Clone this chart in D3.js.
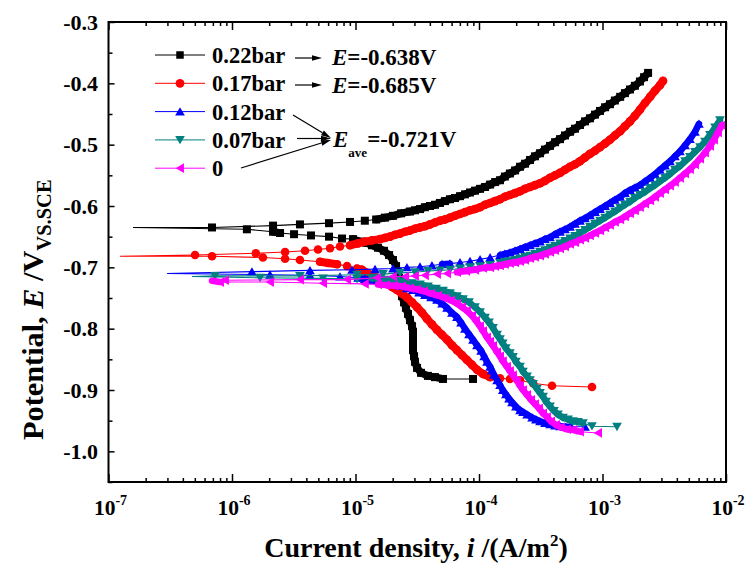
<!DOCTYPE html>
<html><head><meta charset="utf-8">
<script src="https://cdn.jsdelivr.net/npm/d3@7"></script>
<style>
body{margin:0;background:#fff}
svg{display:block}
text{font-family:"Liberation Serif","Times New Roman",serif;font-weight:bold;fill:#000}
</style>
</head><body>
<svg id="chart" width="745" height="569"></svg>
<script>
// ---------- data ----------
const categories = ["0.22bar","0.17bar","0.12bar","0.07bar","0"];
const colors = ["#000000","#ff0000","#0000ff","#008080","#ff00ff"];
const xTicks = [1e-7,1e-6,1e-5,1e-4,1e-3,1e-2];
const xTickExp = ["-7","-6","-5","-4","-3","-2"];
const yTicks = [-0.3,-0.4,-0.5,-0.6,-0.7,-0.8,-0.9,-1.0];
const yTickLabels = ["-0.3","-0.4","-0.5","-0.6","-0.7","-0.8","-0.9","-1.0"];
const annotValues = ["-0.638V","-0.685V","-0.721V"];

// [current density (A/m2), potential (V)]
const s022 = [[8.94e-5,-0.882],[5.11e-5,-0.882],[4.40e-5,-0.879],[3.86e-5,-0.877],[3.39e-5,-0.872],[3.15e-5,-0.864],[3.03e-5,-0.854],[2.98e-5,-0.845],[2.92e-5,-0.835],[2.92e-5,-0.825],[2.92e-5,-0.815],[2.92e-5,-0.805],[2.87e-5,-0.796],[2.76e-5,-0.786],[2.66e-5,-0.776],[2.56e-5,-0.766],[2.47e-5,-0.757],[2.38e-5,-0.747],[2.34e-5,-0.737],[2.29e-5,-0.727],[2.25e-5,-0.717],[2.21e-5,-0.708],[2.13e-5,-0.698],[2.01e-5,-0.688],[1.87e-5,-0.680],[1.70e-5,-0.673],[1.52e-5,-0.668],[1.36e-5,-0.664],[1.22e-5,-0.660],[1.09e-5,-0.658],[9.55e-6,-0.654],[7.78e-6,-0.653],[6.10e-6,-0.650],[4.36e-6,-0.648],[3.18e-6,-0.646],[2.45e-6,-0.644],[2.15e-6,-0.642],[1.32e-6,-0.638],[1.58e-7,-0.635],[6.89e-7,-0.635],[2.15e-6,-0.632],[3.55e-6,-0.630],[6.10e-6,-0.628],[9.03e-6,-0.626],[1.19e-5,-0.624],[1.47e-5,-0.622],[1.73e-5,-0.619],[2.01e-5,-0.616],[2.34e-5,-0.612],[2.76e-5,-0.609],[3.03e-5,-0.607],[3.33e-5,-0.605],[3.65e-5,-0.602],[4.01e-5,-0.600],[4.40e-5,-0.598],[4.83e-5,-0.595],[5.30e-5,-0.592],[5.82e-5,-0.589],[6.39e-5,-0.587],[7.02e-5,-0.584],[7.70e-5,-0.581],[8.46e-5,-0.578],[9.28e-5,-0.575],[1.02e-4,-0.572],[1.12e-4,-0.569],[1.23e-4,-0.565],[1.35e-4,-0.561],[1.48e-4,-0.558],[1.62e-4,-0.552],[1.78e-4,-0.547],[1.96e-4,-0.542],[2.15e-4,-0.536],[2.36e-4,-0.531],[2.59e-4,-0.525],[2.84e-4,-0.519],[3.12e-4,-0.514],[3.42e-4,-0.508],[3.76e-4,-0.502],[4.13e-4,-0.496],[4.53e-4,-0.491],[4.97e-4,-0.485],[5.46e-4,-0.479],[5.99e-4,-0.474],[6.57e-4,-0.468],[7.22e-4,-0.462],[7.92e-4,-0.457],[8.70e-4,-0.451],[9.55e-4,-0.445],[1.05e-3,-0.439],[1.15e-3,-0.434],[1.26e-3,-0.428],[1.39e-3,-0.422],[1.52e-3,-0.416],[1.67e-3,-0.410],[1.83e-3,-0.404],[2.01e-3,-0.397],[2.17e-3,-0.390],[2.34e-3,-0.383]];

const s017 = [[8.22e-4,-0.895],[3.90e-4,-0.893],[2.74e-4,-0.889],[2.15e-4,-0.884],[1.78e-4,-0.882],[1.48e-4,-0.881],[1.23e-4,-0.879],[1.078e-4,-0.874],[9.63e-5,-0.867],[8.78e-5,-0.859],[7.99e-5,-0.851],[7.28e-5,-0.843],[6.63e-5,-0.835],[6.04e-5,-0.827],[5.51e-5,-0.818],[5.02e-5,-0.810],[4.57e-5,-0.802],[4.16e-5,-0.793],[3.79e-5,-0.784],[3.46e-5,-0.774],[3.15e-5,-0.765],[2.87e-5,-0.757],[2.61e-5,-0.749],[2.38e-5,-0.743],[2.17e-5,-0.737],[1.975e-5,-0.732],[1.80e-5,-0.727],[1.64e-5,-0.722],[1.49e-5,-0.717],[1.36e-5,-0.713],[1.24e-5,-0.709],[1.13e-5,-0.704],[1.03e-5,-0.702],[8.54e-6,-0.698],[7.09e-6,-0.695],[5.99e-6,-0.693],[5.16e-6,-0.691],[3.55e-6,-0.688],[2.69e-6,-0.686],[1.78e-6,-0.684],[6.89e-7,-0.682],[1.24e-7,-0.682],[5.02e-7,-0.680],[1.56e-6,-0.677],[2.69e-6,-0.675],[3.90e-6,-0.673],[4.97e-6,-0.671],[6.22e-6,-0.669],[7.49e-6,-0.666],[9.03e-6,-0.664],[1.048e-5,-0.661],[1.19e-5,-0.658],[1.36e-5,-0.656],[1.58e-5,-0.654],[1.733e-5,-0.652],[1.90e-5,-0.650],[2.09e-5,-0.647],[2.29e-5,-0.645],[2.52e-5,-0.642],[2.76e-5,-0.640],[3.03e-5,-0.637],[3.33e-5,-0.635],[3.65e-5,-0.633],[4.01e-5,-0.630],[4.40e-5,-0.627],[4.83e-5,-0.624],[5.30e-5,-0.622],[5.82e-5,-0.619],[6.39e-5,-0.616],[7.02e-5,-0.613],[7.70e-5,-0.610],[8.46e-5,-0.607],[9.28e-5,-0.605],[1.02e-4,-0.602],[1.12e-4,-0.598],[1.23e-4,-0.595],[1.35e-4,-0.592],[1.48e-4,-0.589],[1.62e-4,-0.585],[1.78e-4,-0.582],[1.96e-4,-0.579],[2.15e-4,-0.576],[2.36e-4,-0.572],[2.59e-4,-0.569],[2.84e-4,-0.566],[3.12e-4,-0.563],[3.42e-4,-0.559],[3.76e-4,-0.554],[4.13e-4,-0.550],[4.53e-4,-0.546],[4.97e-4,-0.541],[5.46e-4,-0.536],[5.99e-4,-0.532],[6.57e-4,-0.527],[7.22e-4,-0.521],[7.92e-4,-0.515],[8.70e-4,-0.510],[9.55e-4,-0.504],[1.05e-3,-0.498],[1.15e-3,-0.492],[1.26e-3,-0.485],[1.39e-3,-0.478],[1.52e-3,-0.470],[1.67e-3,-0.462],[1.83e-3,-0.453],[2.01e-3,-0.443],[2.21e-3,-0.432],[2.43e-3,-0.422],[2.66e-3,-0.412],[2.92e-3,-0.403],[3.09e-3,-0.396]];

const s012 = [[7.22e-4,-0.960],[5.46e-4,-0.960],[4.97e-4,-0.960],[4.53e-4,-0.959],[4.13e-4,-0.958],[3.76e-4,-0.956],[3.42e-4,-0.954],[3.12e-4,-0.951],[2.89e-4,-0.948],[2.69e-4,-0.945],[2.45e-4,-0.940],[2.27e-4,-0.936],[2.15e-4,-0.933],[1.99e-4,-0.927],[1.85e-4,-0.920],[1.75e-4,-0.914],[1.65e-4,-0.907],[1.56e-4,-0.900],[1.48e-4,-0.892],[1.40e-4,-0.884],[1.32e-4,-0.875],[1.27e-4,-0.868],[1.23e-4,-0.862],[1.16e-4,-0.854],[1.10e-4,-0.845],[1.04e-4,-0.836],[9.63e-5,-0.827],[8.94e-5,-0.818],[8.30e-5,-0.809],[7.70e-5,-0.800],[7.15e-5,-0.790],[6.63e-5,-0.781],[6.04e-5,-0.774],[5.51e-5,-0.766],[5.02e-5,-0.759],[4.57e-5,-0.753],[4.09e-5,-0.749],[3.65e-5,-0.745],[3.27e-5,-0.741],[2.92e-5,-0.737],[2.61e-5,-0.734],[2.29e-5,-0.730],[2.01e-5,-0.727],[1.77e-5,-0.725],[1.55e-5,-0.722],[1.36e-5,-0.721],[1.19e-5,-0.719],[1.048e-5,-0.717],[7.49e-6,-0.715],[4.28e-6,-0.713],[2.03e-6,-0.712],[2.98e-7,-0.710],[1.45e-6,-0.707],[4.28e-6,-0.705],[9.37e-6,-0.704],[1.44e-5,-0.703],[2.01e-5,-0.702],[2.61e-5,-0.700],[3.33e-5,-0.699],[4.16e-5,-0.697],[5.02e-5,-0.695],[5.82e-5,-0.694],[7.02e-5,-0.692],[8.46e-5,-0.690],[1.02e-4,-0.687],[1.23e-4,-0.684],[1.48e-4,-0.680],[1.62e-4,-0.678],[1.78e-4,-0.676],[1.96e-4,-0.673],[2.15e-4,-0.670],[2.36e-4,-0.667],[2.59e-4,-0.664],[2.84e-4,-0.661],[3.12e-4,-0.658],[3.42e-4,-0.654],[3.76e-4,-0.651],[4.13e-4,-0.646],[4.53e-4,-0.642],[4.97e-4,-0.638],[5.46e-4,-0.634],[5.99e-4,-0.629],[6.57e-4,-0.624],[7.22e-4,-0.620],[7.92e-4,-0.615],[8.70e-4,-0.610],[9.55e-4,-0.605],[1.05e-3,-0.600],[1.15e-3,-0.595],[1.26e-3,-0.590],[1.39e-3,-0.585],[1.52e-3,-0.579],[1.67e-3,-0.574],[1.83e-3,-0.570],[2.01e-3,-0.566],[2.21e-3,-0.560],[2.43e-3,-0.554],[2.66e-3,-0.548],[2.92e-3,-0.541],[3.21e-3,-0.534],[3.52e-3,-0.527],[3.86e-3,-0.519],[4.24e-3,-0.511],[4.66e-3,-0.501],[5.11e-3,-0.491],[5.61e-3,-0.479],[6.04e-3,-0.466]];

const s007 = [[1.31e-3,-0.960],[8.22e-4,-0.959],[6.95e-4,-0.954],[6.33e-4,-0.952],[5.77e-4,-0.951],[5.26e-4,-0.948],[4.79e-4,-0.945],[4.36e-4,-0.940],[4.05e-4,-0.934],[3.76e-4,-0.927],[3.49e-4,-0.919],[3.30e-4,-0.911],[3.12e-4,-0.905],[2.95e-4,-0.898],[2.74e-4,-0.890],[2.59e-4,-0.884],[2.45e-4,-0.878],[2.27e-4,-0.870],[2.15e-4,-0.862],[1.99e-4,-0.854],[1.885e-4,-0.846],[1.78e-4,-0.840],[1.65e-4,-0.832],[1.56e-4,-0.824],[1.48e-4,-0.817],[1.40e-4,-0.810],[1.30e-4,-0.799],[1.205e-4,-0.790],[1.12e-4,-0.782],[1.02e-4,-0.773],[9.28e-5,-0.765],[8.30e-5,-0.757],[7.42e-5,-0.752],[6.63e-5,-0.747],[5.82e-5,-0.742],[5.11e-5,-0.738],[4.49e-5,-0.735],[3.86e-5,-0.731],[3.33e-5,-0.728],[2.87e-5,-0.726],[2.47e-5,-0.723],[2.13e-5,-0.721],[1.83e-5,-0.720],[1.58e-5,-0.719],[1.36e-5,-0.718],[1.03e-5,-0.719],[5.46e-6,-0.718],[1.686e-6,-0.717],[4.74e-7,-0.715],[7.28e-7,-0.714],[3.55e-6,-0.714],[1.03e-5,-0.712],[1.67e-5,-0.711],[2.29e-5,-0.709],[3.03e-5,-0.708],[3.86e-5,-0.706],[4.83e-5,-0.705],[5.82e-5,-0.704],[7.02e-5,-0.702],[8.46e-5,-0.700],[1.02e-4,-0.698],[1.23e-4,-0.696],[1.48e-4,-0.693],[1.62e-4,-0.691],[1.78e-4,-0.690],[1.96e-4,-0.688],[2.15e-4,-0.686],[2.36e-4,-0.683],[2.59e-4,-0.681],[2.84e-4,-0.678],[3.12e-4,-0.675],[3.42e-4,-0.672],[3.76e-4,-0.668],[4.13e-4,-0.665],[4.53e-4,-0.661],[4.97e-4,-0.657],[5.46e-4,-0.653],[5.99e-4,-0.649],[6.57e-4,-0.644],[7.22e-4,-0.639],[7.92e-4,-0.634],[8.70e-4,-0.629],[9.55e-4,-0.624],[1.05e-3,-0.619],[1.15e-3,-0.614],[1.26e-3,-0.609],[1.39e-3,-0.603],[1.52e-3,-0.598],[1.67e-3,-0.593],[1.83e-3,-0.587],[2.01e-3,-0.582],[2.21e-3,-0.577],[2.43e-3,-0.571],[2.66e-3,-0.566],[2.92e-3,-0.560],[3.21e-3,-0.554],[3.52e-3,-0.548],[3.86e-3,-0.541],[4.24e-3,-0.535],[4.66e-3,-0.527],[5.11e-3,-0.520],[5.61e-3,-0.512],[6.16e-3,-0.504],[6.76e-3,-0.495],[7.42e-3,-0.484],[8.15e-3,-0.472],[8.94e-3,-0.460]];

const s000 = [[9.20e-4,-0.970],[6.57e-4,-0.968],[5.77e-4,-0.965],[5.16e-4,-0.964],[4.61e-4,-0.961],[4.20e-4,-0.957],[3.83e-4,-0.951],[3.55e-4,-0.944],[3.30e-4,-0.938],[3.06e-4,-0.930],[2.84e-4,-0.923],[2.64e-4,-0.916],[2.45e-4,-0.908],[2.27e-4,-0.900],[2.15e-4,-0.893],[2.03e-4,-0.885],[1.885e-4,-0.876],[1.78e-4,-0.869],[1.685e-4,-0.862],[1.56e-4,-0.853],[1.48e-4,-0.845],[1.40e-4,-0.838],[1.30e-4,-0.828],[1.23e-4,-0.821],[1.16e-4,-0.814],[1.078e-4,-0.804],[1.02e-4,-0.796],[9.45e-5,-0.787],[8.78e-5,-0.779],[7.99e-5,-0.771],[7.28e-5,-0.765],[6.63e-5,-0.759],[5.93e-5,-0.754],[5.30e-5,-0.750],[4.66e-5,-0.746],[4.09e-5,-0.743],[3.59e-5,-0.739],[3.15e-5,-0.736],[2.76e-5,-0.734],[2.38e-5,-0.731],[2.05e-5,-0.730],[1.77e-5,-0.729],[1.52e-5,-0.728],[1.19e-5,-0.727],[5.46e-6,-0.726],[2.03e-6,-0.724],[7.99e-7,-0.724],[6.89e-7,-0.722],[8.77e-7,-0.721],[3.55e-6,-0.720],[8.54e-6,-0.720],[1.49e-5,-0.717],[2.01e-5,-0.715],[2.52e-5,-0.715],[3.03e-5,-0.714],[3.65e-5,-0.713],[4.57e-5,-0.711],[5.51e-5,-0.710],[6.63e-5,-0.708],[7.85e-5,-0.706],[9.28e-5,-0.704],[1.078e-4,-0.701],[1.23e-4,-0.700],[1.35e-4,-0.698],[1.48e-4,-0.697],[1.62e-4,-0.695],[1.78e-4,-0.693],[1.96e-4,-0.692],[2.15e-4,-0.690],[2.36e-4,-0.688],[2.59e-4,-0.685],[2.84e-4,-0.683],[3.12e-4,-0.681],[3.42e-4,-0.678],[3.76e-4,-0.675],[4.13e-4,-0.672],[4.53e-4,-0.669],[4.97e-4,-0.666],[5.46e-4,-0.662],[5.99e-4,-0.659],[6.57e-4,-0.655],[7.22e-4,-0.652],[7.92e-4,-0.648],[8.70e-4,-0.644],[9.55e-4,-0.640],[1.05e-3,-0.635],[1.15e-3,-0.631],[1.26e-3,-0.626],[1.39e-3,-0.622],[1.52e-3,-0.617],[1.67e-3,-0.612],[1.83e-3,-0.607],[2.01e-3,-0.602],[2.21e-3,-0.596],[2.43e-3,-0.591],[2.66e-3,-0.585],[2.92e-3,-0.579],[3.21e-3,-0.573],[3.52e-3,-0.567],[3.86e-3,-0.561],[4.24e-3,-0.554],[4.66e-3,-0.547],[5.11e-3,-0.540],[5.61e-3,-0.532],[6.16e-3,-0.523],[6.76e-3,-0.513],[7.42e-3,-0.502],[7.99e-3,-0.492],[8.61e-3,-0.480],[9.28e-3,-0.468]];

const seriesData = [s022, s017, s012, s007, s000];

// ---------- layout ----------
const m = {l:108.5, r:726, t:22, b:482};
const svg = d3.select("#chart");
const x = d3.scaleLog().domain([1e-7,1e-2]).range([m.l,m.r]);
const y = d3.scaleLinear().domain([-1.05,-0.3]).range([m.b,m.t]);

// marker shapes
const shapes = [
  s => `M${-s/2},${-s/2}h${s}v${s}h${-s}Z`,
  s => { const r=s/2; return `M${-r},0a${r},${r} 0 1,0 ${2*r},0a${r},${r} 0 1,0 ${-2*r},0Z`; },
  s => `M0,${-s*0.5}L${s*0.55},${s*0.45}L${-s*0.55},${s*0.45}Z`,
  s => `M0,${s*0.5}L${s*0.55},${-s*0.45}L${-s*0.55},${-s*0.45}Z`,
  s => `M${-s*0.5},0L${s*0.45},${-s*0.55}L${s*0.45},${s*0.55}Z`
];
const mSize = [8, 8.6, 8.8, 8.8, 8.8];
const bandW = [7.5, 8, 6.5, 6.5, 6.5];

// ---------- curves ----------
const plot = svg.append("g");
const line = d3.line().x(d=>x(d[0])).y(d=>y(d[1]));
seriesData.forEach((data,k)=>{
  const g = plot.append("g");
  g.append("path").datum(data).attr("d",line)
    .attr("fill","none").attr("stroke",colors[k]).attr("stroke-width",1.1);
  // overlapping markers in dense runs form a continuous band
  const segs = [];
  for (let i=1;i<data.length;i++){
    const x0=x(data[i-1][0]), y0=y(data[i-1][1]), x1=x(data[i][0]), y1=y(data[i][1]);
    if (Math.hypot(x1-x0,y1-y0) < 9.5) segs.push([x0,y0,x1,y1]);
  }
  g.selectAll("line.band").data(segs).join("line").attr("class","band")
    .attr("x1",d=>d[0]).attr("y1",d=>d[1]).attr("x2",d=>d[2]).attr("y2",d=>d[3])
    .attr("stroke",colors[k]).attr("stroke-width",bandW[k]).attr("stroke-linecap","round");
  const minI = d3.min(data,d=>d[0]);
  g.selectAll("path.mk").data(data.filter(d=>d[0]!==minI)).join("path")
    .attr("class","mk")
    .attr("d",shapes[k](mSize[k]))
    .attr("transform",d=>`translate(${x(d[0])},${y(d[1])})`)
    .attr("fill",colors[k]);
});

// ---------- axes ----------
const minorX = [];
for (let e=-7;e<-2;e++) for (let k=2;k<=9;k++) minorX.push(k*Math.pow(10,e));
const minorY = [-0.35,-0.45,-0.55,-0.65,-0.75,-0.85,-0.95,-1.05];

const axStyle = g => { g.select(".domain").remove(); g.selectAll(".tick line").attr("stroke","#000").attr("stroke-width",1.5); g.selectAll("text").remove(); };

svg.append("g").attr("transform",`translate(0,${m.b})`)
  .call(d3.axisBottom(x).tickValues(xTicks).tickSize(-8)).call(axStyle);
svg.append("g").attr("transform",`translate(0,${m.b})`)
  .call(d3.axisBottom(x).tickValues(minorX).tickSize(-4)).call(axStyle);
svg.append("g").attr("transform",`translate(0,${m.t})`)
  .call(d3.axisTop(x).tickValues(xTicks).tickSize(-8)).call(axStyle);
svg.append("g").attr("transform",`translate(0,${m.t})`)
  .call(d3.axisTop(x).tickValues(minorX).tickSize(-4)).call(axStyle);
svg.append("g").attr("transform",`translate(${m.l},0)`)
  .call(d3.axisLeft(y).tickValues(yTicks).tickSize(-6)).call(axStyle);
svg.append("g").attr("transform",`translate(${m.l},0)`)
  .call(d3.axisLeft(y).tickValues(minorY).tickSize(-4)).call(axStyle);

// frame
svg.append("rect").attr("x",m.l).attr("y",m.t).attr("width",m.r-m.l).attr("height",m.b-m.t)
  .attr("fill","none").attr("stroke","#000").attr("stroke-width",2);

// y tick labels
svg.append("g").selectAll("text").data(yTicks).join("text")
  .attr("x",98).attr("y",d=>y(d)).attr("dy","0.35em")
  .attr("text-anchor","end").attr("font-size",22)
  .text((d,i)=>yTickLabels[i]);

// x tick labels
const xl = svg.append("g").selectAll("text").data(xTicks).join("text")
  .attr("x",d=>x(d)+2).attr("y",515).attr("text-anchor","middle").attr("font-size",21.5);
xl.append("tspan").text("10");
xl.append("tspan").attr("dy",-10).attr("font-size",14).text((d,i)=>xTickExp[i]);

// axis titles
const xt = svg.append("text").attr("x",416).attr("y",557).attr("text-anchor","middle").attr("font-size",28);
xt.append("tspan").text("Current density, ");
xt.append("tspan").attr("font-style","italic").text("i");
xt.append("tspan").text(" /(A/m");
xt.append("tspan").attr("dy",-11).attr("font-size",17).text("2");
xt.append("tspan").attr("dy",11).text(")");

const yt = svg.append("text").attr("transform","translate(43,440) rotate(-90)")
  .attr("text-anchor","start").attr("font-size",30.3);
yt.append("tspan").text("Potential, ");
yt.append("tspan").attr("font-style","italic").text("E");
yt.append("tspan").text(" /V");
yt.append("tspan").attr("dy",8).attr("font-size",20.5).text("VS.SCE");

// ---------- legend ----------
const leg = svg.append("g");
categories.forEach((c,k)=>{
  const yy = 55 + k*28.3;
  leg.append("line").attr("x1",155).attr("x2",205).attr("y1",yy).attr("y2",yy)
    .attr("stroke",colors[k]).attr("stroke-width",1);
  leg.append("path").attr("d",shapes[k](k===0?7.5:8.8)).attr("transform",`translate(180,${yy})`).attr("fill",colors[k]);
  leg.append("text").attr("x",212).attr("y",yy+8).attr("font-size",22.5).text(c);
});

// ---------- annotations ----------
const ann = svg.append("g");
function arrow(x1,y1,x2,y2){
  const a = Math.atan2(y2-y1,x2-x1), L=10, w=2.8;
  const bx = x2 - L*Math.cos(a), by = y2 - L*Math.sin(a);
  ann.append("line").attr("x1",x1).attr("y1",y1).attr("x2",bx).attr("y2",by).attr("stroke","#000").attr("stroke-width",1.2);
  ann.append("path").attr("d",`M${x2},${y2}L${bx - w*Math.sin(a)},${by + w*Math.cos(a)}L${bx + w*Math.sin(a)},${by - w*Math.cos(a)}Z`).attr("fill","#000");
}
arrow(295,58,322,58);
arrow(295,85,322,85);
arrow(293,115,331,138);
arrow(297,138.5,331,138.5);
arrow(241,168,331,140);

const t1 = ann.append("text").attr("x",332).attr("y",65).attr("font-size",23);
t1.append("tspan").attr("font-style","italic").text("E");
t1.append("tspan").text("=" + annotValues[0]);
const t2 = ann.append("text").attr("x",332).attr("y",93).attr("font-size",23);
t2.append("tspan").attr("font-style","italic").text("E");
t2.append("tspan").text("=" + annotValues[1]);
const t3 = ann.append("text").attr("x",333).attr("y",147).attr("font-size",23);
t3.append("tspan").attr("font-style","italic").text("E");
t3.append("tspan").attr("dy",10).attr("font-size",13).text("ave");
t3.append("tspan").attr("dy",-10).text("=" + annotValues[2]);
</script>
</body></html>
